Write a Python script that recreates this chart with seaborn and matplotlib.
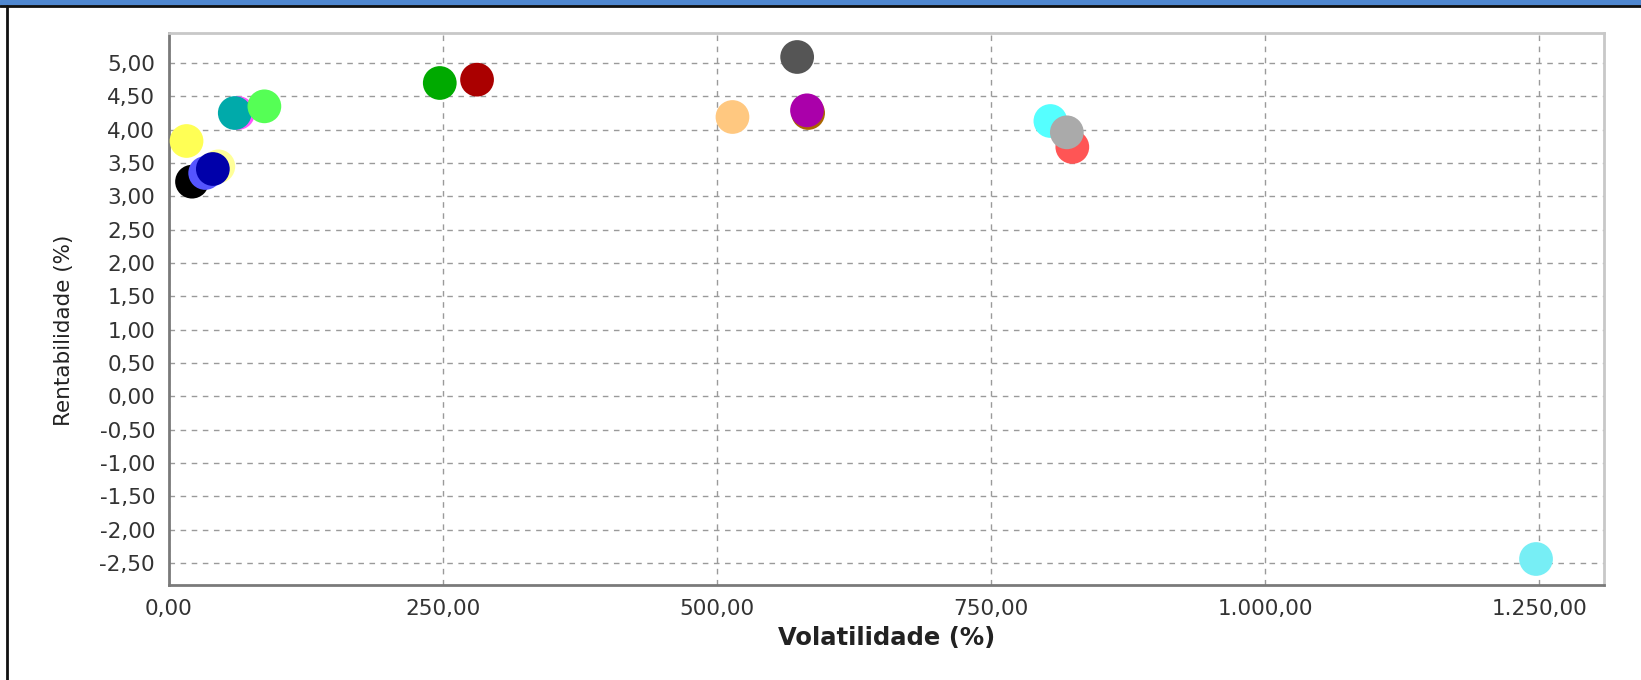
import numpy as np
import pandas as pd
import matplotlib
matplotlib.use("Agg")
import matplotlib.pyplot as plt
from matplotlib.lines import Line2D
from matplotlib.patches import Rectangle
import seaborn as sns

# ---------------------------------------------------------------------
# DATA
# ---------------------------------------------------------------------
series = ["s01", "s02", "s03", "s04", "s05", "s06", "s07", "s08", "s09",
          "s10", "s11", "s12", "s13", "s14", "s15", "s16", "s17", "s18"]
volatilidade = [21, 33, 45, 40, 16, 63, 60, 87, 247, 281,
                573, 514, 583, 582, 804, 824, 819, 1247]
rentabilidade = [3.22, 3.35, 3.45, 3.41, 3.83, 4.25, 4.25, 4.35, 4.70, 4.75,
                 5.09, 4.19, 4.25, 4.29, 4.13, 3.74, 3.96, -2.44]
cores = ["#000000", "#5555ff", "#ffff99", "#0000aa", "#ffff55", "#ff55ff",
         "#00aaaa", "#55ff55", "#00aa00", "#aa0000", "#555555", "#ffc880",
         "#aa6600", "#aa00aa", "#55ffff", "#ff5555", "#aaaaaa", "#77eef5"]

x_ticks = [0, 250, 500, 750, 1000, 1250]
x_labels = ["0,00", "250,00", "500,00", "750,00", "1.000,00", "1.250,00"]
y_ticks = [-2.5, -2.0, -1.5, -1.0, -0.5, 0.0, 0.5, 1.0, 1.5, 2.0, 2.5,
           3.0, 3.5, 4.0, 4.5, 5.0]
y_labels = ["-2,50", "-2,00", "-1,50", "-1,00", "-0,50", "0,00", "0,50",
            "1,00", "1,50", "2,00", "2,50", "3,00", "3,50", "4,00", "4,50",
            "5,00"]

df = pd.DataFrame({"serie": series, "vol": volatilidade, "rent": rentabilidade})
palette = dict(zip(series, cores))

# ---------------------------------------------------------------------
# PLOT
# ---------------------------------------------------------------------
sns.set_style("white")
plt.rcParams["font.family"] = ["DejaVu Sans"]

fig = plt.figure(figsize=(16.41, 6.80), dpi=100)
ax = fig.add_axes([169 / 1641, 1 - 585 / 680, 1435 / 1641, 552 / 680])

sns.scatterplot(data=df, x="vol", y="rent", hue="serie", palette=palette,
                s=590, linewidth=0, legend=False, ax=ax, zorder=3)

ax.set_xlim(0, 1309)
ax.set_ylim(-2.83, 5.45)
ax.set_xticks(x_ticks)
ax.set_xticklabels(x_labels)
ax.set_yticks(y_ticks)
ax.set_yticklabels(y_labels)
ax.tick_params(axis="both", labelsize=15.5, colors="#333333", length=4,
               width=1, direction="out", pad=6)
ax.tick_params(axis="both", color="#808080")

ax.grid(True, color="#9a9a9a", linestyle=(0, (4, 4)), linewidth=1)
ax.set_axisbelow(True)

for side in ["left", "bottom"]:
    ax.spines[side].set_color("#7a7a7a")
    ax.spines[side].set_linewidth(2)
for side in ["top", "right"]:
    ax.spines[side].set_color("#c8c8c8")
    ax.spines[side].set_linewidth(2)

ax.set_xlabel("Volatilidade (%)", fontsize=17.5, fontweight="bold", color="#222222")
ax.set_ylabel("Rentabilidade (%)", fontsize=15.5, color="#222222")
ax.xaxis.set_label_coords(0.5, -0.074)
ax.yaxis.set_label_coords(-0.066, 0.462)

# window frame: blue title band and black border
fig.add_artist(Rectangle((0, 1 - 5 / 680), 1, 5 / 680, transform=fig.transFigure,
                         color="#4f87d0", zorder=0))
fig.add_artist(Line2D([0, 1], [1 - 6 / 680, 1 - 6 / 680], transform=fig.transFigure,
                      color="#111111", linewidth=2))
fig.add_artist(Line2D([7 / 1641, 7 / 1641], [0, 1 - 6 / 680], transform=fig.transFigure,
                      color="#111111", linewidth=2))

fig.savefig("out.png", dpi=100)
